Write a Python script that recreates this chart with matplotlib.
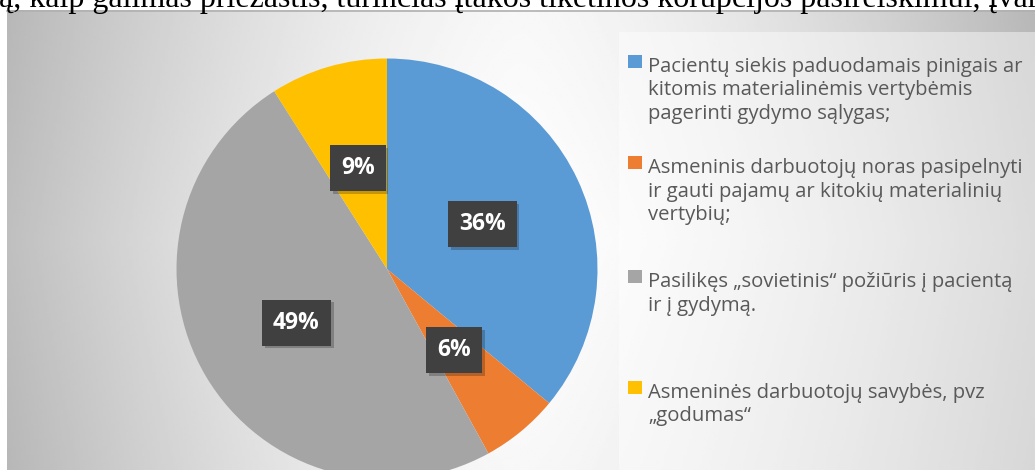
import numpy as np
import matplotlib
matplotlib.use("Agg")
import matplotlib.pyplot as plt
import matplotlib.patheffects as pe
from matplotlib.patches import Rectangle

# data
shares = [36, 6, 49, 9]
colors = ["#5B9BD5", "#ED7D31", "#A5A5A5", "#FFC000"]
legend_labels = [
    "Pacientų siekis paduodamais pinigais ar\nkitomis materialinėmis vertybėmis\npagerinti gydymo sąlygas;",
    "Asmeninis darbuotojų noras pasipelnyti\nir gauti pajamų ar kitokių materialinių\nvertybių;",
    "Pasilikęs „sovietinis“ požiūris į pacientą\nir į gydymą.",
    "Asmeninės darbuotojų savybės, pvz\n„godumas“",
]
title = "ą, kaip galimas priežastis, turinčias įtakos tikėtinos korupcijos pasireiškimui, įvar"

W, H = 1035, 470
fig = plt.figure(figsize=(W / 100, H / 100), dpi=100)
ax = fig.add_axes([0, 0, 1, 1])

# chart area background (grey - white - grey)
xx = np.linspace(0, 1, 400)
yy = np.linspace(0, 1, 200)
X, Y = np.meshgrid(xx, yy)
d = np.abs(X - 0.5) / 0.5
shade = 1 - 0.25 * d ** 1.5 - 0.03 * np.abs(Y - 0.5) / 0.5
ax.imshow(shade, cmap="gray", vmin=0, vmax=1, extent=(7, W, 0, H - 10),
          aspect="auto", zorder=0, interpolation="bilinear")
ax.plot([7, W], [H - 10.5, H - 10.5], color="#b0b0b0", lw=1.2, zorder=1)

# legend panel
ax.add_patch(Rectangle((619, 0), W - 619, H - 32, facecolor="white",
                       alpha=0.45, edgecolor="none", zorder=1))

wedges, texts, autotexts = ax.pie(
    shares, colors=colors, startangle=90, counterclock=False,
    center=(387, H - 269), radius=210.5, autopct="%d%%", pctdistance=0.5,
    wedgeprops=dict(linewidth=0), textprops=dict(color="white", fontsize=16.5,
                                                 fontweight="bold",
                                                 family="Open Sans"))
for w in wedges:
    w.set_zorder(2)
for t in autotexts:
    t.set_zorder(4)
    t.set_bbox(dict(boxstyle="square,pad=0.48", facecolor="#404040",
                    edgecolor="none", linewidth=0))
    t.get_bbox_patch().set_path_effects(
        [pe.withSimplePatchShadow(offset=(2, -2), alpha=0.22, shadow_rgbFace="#000000"),
         pe.Normal()])

ax.set_xlim(0, W)
ax.set_ylim(0, H)
ax.set_aspect("auto")
ax.axis("off")

# legend entries
first_line = [72, 173, 287, 398]
line_step = 23.5
for lab, col, yb in zip(legend_labels, colors, first_line):
    ax.add_patch(Rectangle((628, H - yb + 4), 14, 13.5, facecolor=col,
                           edgecolor="none", zorder=3))
    for i, line in enumerate(lab.split("\n")):
        ax.text(648, H - yb - i * line_step, line, ha="left", va="baseline",
                fontsize=14.6, family="Open Sans", color="#595959", zorder=3)

ax.text(-1, H - 7, title, ha="left", va="baseline", fontsize=23,
        family="Liberation Serif", color="black", zorder=5)

fig.savefig("out.png", dpi=100)
